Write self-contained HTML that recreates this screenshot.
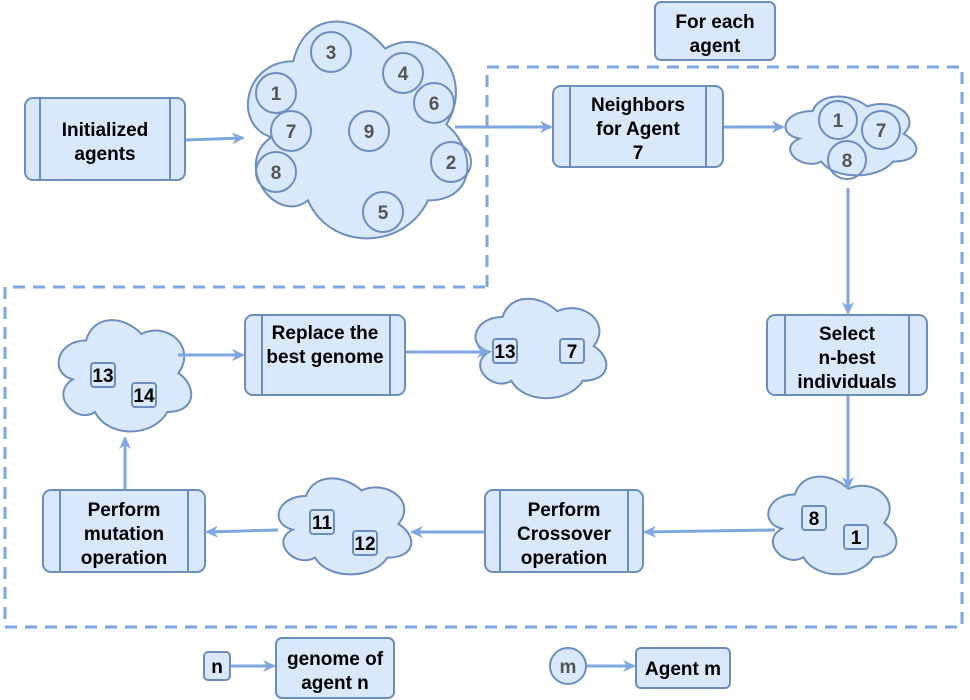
<!DOCTYPE html>
<html><head><meta charset="utf-8"><style>body{margin:0;background:#fff}svg{display:block}text{font-family:"Liberation Sans",sans-serif;font-weight:bold;font-size:19px;text-anchor:middle}</style></head><body>
<svg width="970" height="700" viewBox="0 0 970 700" xmlns="http://www.w3.org/2000/svg">
<defs>
<path id="cl" vector-effect="non-scaling-stroke" d="M .25 .25 C .05 .25 0 .5 .16 .55 C 0 .66 .18 .9 .31 .8 C .4 1 .7 1 .8 .8 C 1 .8 1 .6 .875 .5 C 1 .3 .8 .1 .625 .2 C .5 .05 .3 .05 .25 .25 Z"/>
<marker id="ar" markerWidth="14" markerHeight="14" refX="11" refY="6" orient="auto" markerUnits="userSpaceOnUse"><path d="M0,0 L13,6 L0,12 L4,6 Z" fill="#7ea6e0"/></marker>
</defs>
<g fill="none" stroke="#7ea6e0" stroke-width="3" stroke-dasharray="12,8">
<path d="M487,287 V67 H962 V627 H5 V287 H487"/>
</g>
<g fill="#dae8fc" stroke="#6c8ebf" stroke-width="2">
<use href="#cl" transform="translate(232,-2) scale(245,253)"/>
<use href="#cl" transform="translate(776,88) scale(146,92)"/>
<use href="#cl" transform="translate(466,288) scale(146,116)"/>
<use href="#cl" transform="translate(49,308) scale(148,130)"/>
<use href="#cl" transform="translate(759,466) scale(143,114)"/>
<use href="#cl" transform="translate(269,468) scale(148,112)"/>
</g>
<g stroke="#7ea6e0" stroke-width="3" fill="none" marker-end="url(#ar)">
<path d="M185,140 L243,138"/><path d="M455,127 L551,127"/><path d="M723,127 L783,127"/>
<path d="M848,188 L848,313"/><path d="M848,395 L848,488"/><path d="M775,530 L645,532"/>
<path d="M485,532 L412,532"/><path d="M278,530 L207,532"/><path d="M125,490 L125,438"/>
<path d="M178,355 L243,355"/><path d="M405,352 L488,352"/><path d="M230,666 L274,666"/><path d="M586,666 L634,666"/>
</g>
<g fill="#dae8fc" stroke="#6c8ebf" stroke-width="2">
<rect x="25" y="98" width="160" height="82" rx="8"/><path d="M40,98V180M170,98V180"/>
<rect x="553" y="86" width="170" height="81" rx="8"/><path d="M570,86V167M706,86V167"/>
<rect x="767" y="315" width="160" height="80" rx="8"/><path d="M785,315V395M909,315V395"/>
<rect x="245" y="315" width="160" height="80" rx="8"/><path d="M262,315V395M390,315V395"/>
<rect x="485" y="490" width="158" height="82" rx="8"/><path d="M500,490V572M628,490V572"/>
<rect x="43" y="490" width="162" height="82" rx="8"/><path d="M60,490V572M188,490V572"/>
<rect x="655" y="2" width="120" height="58" rx="6"/>
<rect x="276" y="638" width="118" height="60" rx="6"/>
<rect x="636" y="648" width="94" height="40" rx="5"/>
<rect x="204" y="652" width="26" height="28" rx="4"/>
<circle cx="568" cy="666" r="18"/>
<rect x="91" y="363" width="24" height="24" rx="3"/><rect x="132" y="383" width="24" height="24" rx="3"/>
<rect x="493" y="339" width="24" height="24" rx="3"/><rect x="560" y="339" width="24" height="24" rx="3"/>
<rect x="802" y="506" width="24" height="24" rx="3"/><rect x="844" y="525" width="24" height="24" rx="3"/>
<rect x="310" y="510" width="24" height="24" rx="3"/><rect x="353" y="531" width="24" height="24" rx="3"/>
</g>
<g fill="none" stroke="#6c8ebf" stroke-width="2">
<circle cx="331" cy="52" r="20"/><circle cx="403" cy="73" r="20"/><circle cx="276" cy="93" r="20"/><circle cx="434" cy="103" r="20"/><circle cx="291" cy="131" r="20"/><circle cx="369" cy="131" r="20"/><circle cx="451" cy="162" r="20"/><circle cx="276" cy="172" r="20"/><circle cx="383" cy="212" r="20"/>
<circle cx="838" cy="120" r="19"/><circle cx="881" cy="130" r="19"/><circle cx="847" cy="160" r="19"/>
</g>
<g fill="#555">
<text x="331" y="59">3</text><text x="403" y="80">4</text><text x="276" y="100">1</text><text x="434" y="110">6</text><text x="291" y="138">7</text><text x="369" y="138">9</text><text x="451" y="169">2</text><text x="276" y="179">8</text><text x="383" y="219">5</text>
<text x="838" y="127">1</text><text x="881" y="137">7</text><text x="847" y="167">8</text><text x="568" y="673">m</text>
</g>
<g fill="#000">
<text x="105" y="136">Initialized</text><text x="105" y="160">agents</text>
<text x="638" y="111">Neighbors</text><text x="638" y="135">for Agent</text><text x="638" y="159">7</text>
<text x="847" y="340">Select</text><text x="847" y="364">n-best</text><text x="847" y="388">individuals</text>
<text x="325" y="339">Replace the</text><text x="325" y="363">best genome</text>
<text x="564" y="516">Perform</text><text x="564" y="540">Crossover</text><text x="564" y="564">operation</text>
<text x="124" y="516">Perform</text><text x="124" y="540">mutation</text><text x="124" y="564">operation</text>
<text x="715" y="28">For each</text><text x="715" y="52">agent</text>
<text x="335" y="665">genome of</text><text x="335" y="689">agent n</text>
<text x="683" y="675">Agent m</text><text x="217" y="673">n</text>
<text x="103" y="382">13</text><text x="144" y="402">14</text><text x="505" y="358">13</text><text x="572" y="358">7</text>
<text x="814" y="525">8</text><text x="856" y="544">1</text><text x="322" y="529">11</text><text x="365" y="550">12</text>
</g>
</svg>
</body></html>
